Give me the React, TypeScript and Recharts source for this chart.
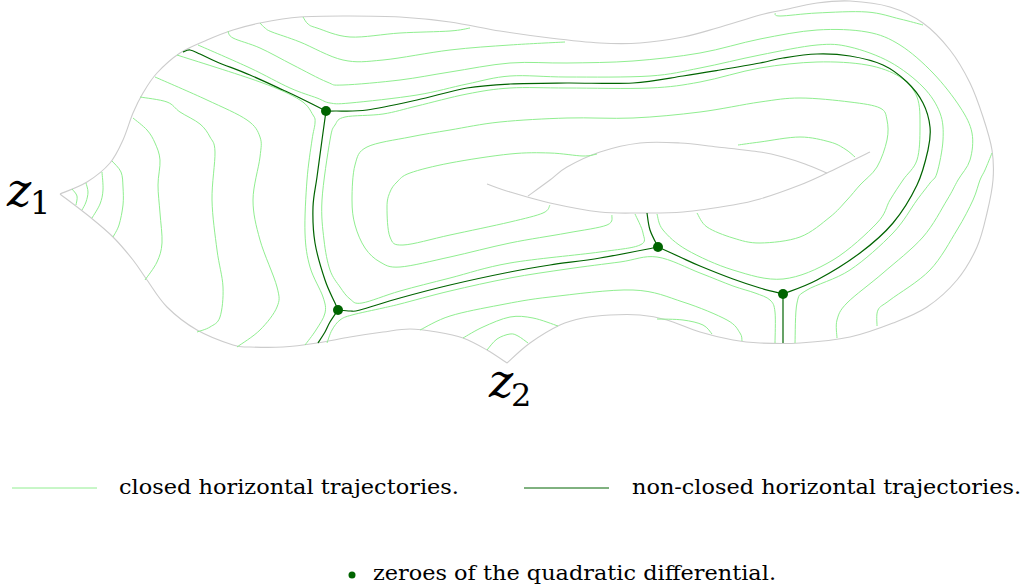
import { ComposedChart, Line, Scatter, XAxis, YAxis } from "recharts";

type P = [number, number];

// outer domain, split at the two cusps z1 and z2
const boundaryUpper: P[] = [[60,194],[87,182],[110,163],[123,140],[133,113],[143,93],[157,73],[180,53],[207,40],[233,30],[260,23],[300,17],[350,16],[400,17],[450,22],[500,31],[550,38],[600,43],[640,43],[683,37],[717,28],[760,15],[783,10],[817,3],[850,1],[890,7],[923,23],[950,50],[970,83],[983,117],[992,150],[993,180],[987,213],[977,247],[957,280],[927,307],[893,323],[850,337],[800,343],[760,343],[733,340],[700,332],[667,320],[640,315],[610,315],[583,318],[560,325],[530,343],[507,363]];
const boundaryLower: P[] = [[507,363],[487,350],[463,338],[437,332],[410,329],[383,332],[350,337],[317,343],[283,347],[250,347],[233,345],[197,330],[167,307],[147,280],[133,260],[113,237],[90,217],[60,194]];
const slitLower: P[] = [[487,184],[510,192],[550,203],[600,212],[640,213],[683,212],[733,205],[760,199],[800,185],[827,173],[870,152]];
const slitUpper: P[] = [[528,196],[550,180],[567,167],[600,152],[640,143],[680,143],[717,147],[760,152],[783,157],[805,164],[827,173]];

// critical graph
const critAWest: P[] = [[326,111],[300,98],[283,90],[250,75],[217,62],[200,54],[190,50],[183,52]];
const critAEast: P[] = [[326,111],[335,111],[367,110],[417,100],[467,88],[510,84],[567,83],[633,83],[683,76],[720,70],[760,63],[783,58],[817,54],[850,56],[883,65],[907,82],[923,103],[930,127],[928,150],[917,185],[893,223],[860,253],[817,280],[783,294]];
const critAB: P[] = [[326,111],[322,140],[317,177],[313,207],[315,243],[325,280],[335,303],[338,310]];
const critBSouth: P[] = [[338,310],[330,322],[325,332],[318,343]];
const critBC: P[] = [[338,310],[350,311],[360,310],[400,298],[450,285],[510,272],[550,265],[600,258],[658,247]];
const critCSlit: P[] = [[658,247],[650,230],[647,213]];
const critCD: P[] = [[658,247],[680,257],[700,266],[733,279],[760,288],[783,294]];
const critDSouth: P[] = [[783,294],[783,343]];
const zeros: P[] = [[326,111],[338,310],[658,247],[783,294]];

// closed trajectories
const arc1: P[] = [[72,189],[77,196],[76,205]];
const arc2: P[] = [[86,183],[88,192],[86,202],[82,210]];
const arc3: P[] = [[102,172],[103,190],[100,204],[92,218]];
const arc4: P[] = [[112,161],[121,172],[123,187],[123,205],[119,225],[113,237]];
const lobe5: P[] = [[133,118],[147,130],[155,143],[160,160],[158,185],[160,213],[162,243],[157,262],[145,280]];
const lobe6: P[] = [[140,97],[167,102],[180,112],[200,124],[210,137],[215,152],[212,200],[217,250],[223,287],[220,317],[210,327],[197,332]];
const lobe7: P[] = [[155,77],[207,100],[247,120],[260,137],[260,157],[253,200],[260,240],[277,287],[277,307],[260,330],[237,347]];
const lobe8: P[] = [[177,55],[260,82],[300,100],[313,115],[315,123],[312,140],[307,180],[305,233],[310,267],[323,297],[325,313],[316,330],[305,345]];
const topA: P[] = [[260,23],[265,28],[272,32],[300,42],[343,60],[383,60],[450,50],[510,45],[565,42]];
const topB: P[] = [[303,17],[308,24],[317,28],[350,37],[400,33],[450,31],[470,28]];
const topRight: P[] = [[775,13],[780,16],[817,13],[867,12],[900,19],[923,25]];
const bandE: P[] = [[228,31],[233,38],[260,48],[293,65],[327,82],[343,85],[400,80],[450,72],[510,63],[567,63],[633,61],[700,53],[760,39],[817,30],[867,32],[900,45],[933,73],[960,107],[972,133],[970,160],[958,180],[947,200],[923,237],[883,273],[847,303],[837,320],[837,338]];
const bandD: P[] = [[198,45],[250,68],[290,88],[317,98],[330,103],[350,103],[417,95],[467,84],[510,76],[567,77],[650,76],[700,68],[760,55],[817,45],[850,47],[890,62],[923,87],[940,113],[943,140],[937,173],[930,183],[917,200],[893,233],[850,270],[807,290],[797,303],[795,343]];
const bandF: P[] = [[992,153],[985,170],[980,180],[973,200],[957,230],[930,270],[890,300],[878,310],[877,326]];
const loopB: P[] = [[657,214],[663,230],[687,250],[733,270],[783,279],[833,260],[877,223],[890,200],[903,180],[917,160],[920,127],[917,97],[900,77],[867,65],[817,62],[760,68],[700,82],[650,88],[567,88],[510,88],[467,94],[417,106],[383,114],[345,117],[335,125],[330,140],[322,200],[324,240],[330,270],[340,287],[350,299],[362,303],[400,291],[450,278],[510,263],[600,252],[640,245],[643,233],[635,214]];
const loopA: P[] = [[612,215],[607,225],[567,233],[510,243],[450,257],[400,267],[380,262],[365,248],[355,225],[352,200],[355,165],[367,147],[410,137],[450,130],[500,122],[567,118],[633,118],[700,112],[760,102],[800,98],[850,102],[880,108],[887,120],[887,140],[877,167],[860,185],[847,200],[830,217],[800,237],[760,243],[733,238],[707,227],[697,213]];
const loopInner: P[] = [[597,154],[583,156],[550,153],[510,154],[450,163],[410,173],[397,182],[390,192],[387,207],[390,237],[403,245],[450,235],[510,222],[543,213],[550,205]];
const slitTop: P[] = [[738,145],[760,142],[800,137],[830,142],[845,149],[855,157]];
const lowerG: P[] = [[327,343],[332,330],[340,320],[352,315],[383,308],[400,304],[450,291],[510,278],[567,269],[620,262],[657,257],[700,273],[733,286],[755,293],[770,300],[775,312],[775,343]];
const lowerH: P[] = [[420,330],[450,316],[500,305],[550,297],[633,290],[683,302],[727,320],[740,333],[742,341]];
const lowerI: P[] = [[463,338],[483,327],[510,317],[533,318],[558,326]];
const lowerJ: P[] = [[487,350],[497,339],[510,334],[518,336],[528,343]];
const lowerK: P[] = [[657,319],[683,320],[703,325],[712,334]];

const boundaries = [boundaryUpper, boundaryLower, slitLower, slitUpper];
const criticalLines = [critAWest, critAEast, critAB, critBSouth, critBC, critCSlit, critCD, critDSouth];
const closedLines = [arc1, arc2, arc3, arc4, lobe5, lobe6, lobe7, lobe8, topA, topB, topRight, bandE, bandD, bandF, loopB, loopA, loopInner, slitTop, lowerG, lowerH, lowerI, lowerJ, lowerK];

const legendLabels = ["closed horizontal trajectories.", "non-closed horizontal trajectories.", "zeroes of the quadratic differential."];

const LIGHT = "#90ee90";
const DARK = "#006400";
const GREY = "#cccccc";
const SERIF = "DejaVu Serif";

const toRows = (pts: P[]) => pts.map(([x, y]) => ({ x, y }));

// catmull-rom through the points so the traced curves pass where they were read
function catmullRom(context: any) {
  let pts: P[] = [];
  return {
    areaStart() {},
    areaEnd() {},
    lineStart() {
      pts = [];
    },
    point(x: number, y: number) {
      pts.push([x, y]);
    },
    lineEnd() {
      if (!pts.length) return;
      context.moveTo(pts[0][0], pts[0][1]);
      for (let i = 0; i < pts.length - 1; i++) {
        const p0 = pts[i - 1] || pts[i];
        const p1 = pts[i];
        const p2 = pts[i + 1];
        const p3 = pts[i + 2] || p2;
        context.bezierCurveTo(
          p1[0] + (p2[0] - p0[0]) / 6,
          p1[1] + (p2[1] - p0[1]) / 6,
          p2[0] - (p3[0] - p1[0]) / 6,
          p2[1] - (p3[1] - p1[1]) / 6,
          p2[0],
          p2[1]
        );
      }
    },
  };
}

export default function App() {
  return (
    <div style={{ position: "absolute", left: 0, top: 0, width: 1030, height: 588, background: "#fff" }}>
      <ComposedChart width={1030} height={588} margin={{ top: 0, right: 0, bottom: 0, left: 0 }}>
        <XAxis type="number" dataKey="x" domain={[0, 1030]} hide allowDataOverflow />
        <YAxis type="number" dataKey="y" domain={[0, 588]} reversed hide allowDataOverflow />
        {boundaries.map((pts, i) => (
          <Line key={"b" + i} data={toRows(pts)} dataKey="y" type={catmullRom as any} stroke={GREY} strokeWidth={1.1} dot={false} activeDot={false} isAnimationActive={false} />
        ))}
        {closedLines.map((pts, i) => (
          <Line key={"c" + i} data={toRows(pts)} dataKey="y" type={catmullRom as any} stroke={LIGHT} strokeWidth={1} dot={false} activeDot={false} isAnimationActive={false} />
        ))}
        {criticalLines.map((pts, i) => (
          <Line key={"k" + i} data={toRows(pts)} dataKey="y" type={catmullRom as any} stroke={DARK} strokeWidth={1.2} dot={false} activeDot={false} isAnimationActive={false} />
        ))}
        <Scatter
          data={toRows(zeros)}
          fill={DARK}
          isAnimationActive={false}
          shape={(p: any) => <circle cx={p.cx} cy={p.cy} r={5} fill={DARK} />}
        />
      </ComposedChart>

      <svg width={1030} height={588} style={{ position: "absolute", left: 0, top: 0, pointerEvents: "none" }}>
        <text x={7} y={206} fontFamily={SERIF} fontStyle="italic" fontSize={46}>z</text>
        <text x={30} y={214} fontFamily={SERIF} fontSize={32}>1</text>
        <text x={489} y={397} fontFamily={SERIF} fontStyle="italic" fontSize={46}>z</text>
        <text x={511} y={406} fontFamily={SERIF} fontSize={32}>2</text>

        <line x1={12} y1={488} x2={97} y2={488} stroke={LIGHT} strokeWidth={1} />
        <text x={119} y={494} fontFamily={SERIF} fontSize={21} textLength={340} lengthAdjust="spacingAndGlyphs">
          {legendLabels[0]}
        </text>
        <line x1={524} y1={488} x2={609} y2={488} stroke={DARK} strokeWidth={1} />
        <text x={632} y={494} fontFamily={SERIF} fontSize={21} textLength={389} lengthAdjust="spacingAndGlyphs">
          {legendLabels[1]}
        </text>
        <circle cx={352} cy={575} r={3.5} fill={DARK} />
        <text x={373} y={580} fontFamily={SERIF} fontSize={21} textLength={403} lengthAdjust="spacingAndGlyphs">
          {legendLabels[2]}
        </text>
      </svg>
    </div>
  );
}
